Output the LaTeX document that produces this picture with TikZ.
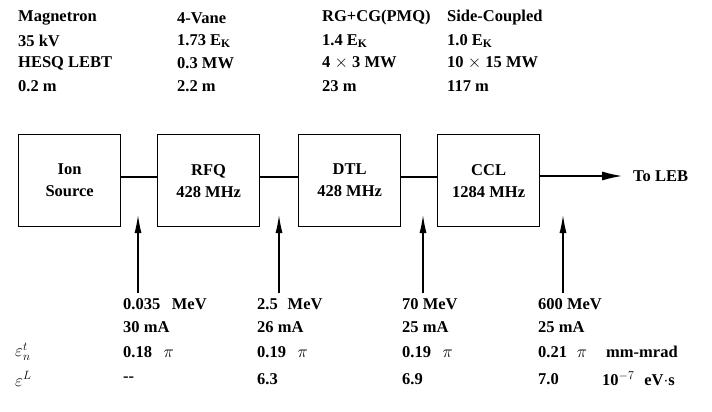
\documentclass[tikz,border=0pt]{standalone}
\usepackage{fontspec}
\setmainfont{Liberation Serif}
\usetikzlibrary{arrows.meta}
\begin{document}
\begin{tikzpicture}[x=1pt,y=-1pt,
  lbl/.style={anchor=west,inner sep=0pt,font=\bfseries\fontsize{16.5}{19}\selectfont},
  eps/.style={anchor=west,inner sep=0pt,font=\fontsize{18}{20}\selectfont},
  box/.style={draw,line width=1.3pt,minimum width=102pt,minimum height=92pt,anchor=north west,align=center,inner sep=0pt,font=\bfseries\fontsize{16.5}{22}\selectfont},
  conn/.style={line width=1.2pt},
  feed/.style={line width=1.2pt,-{Latex[length=18pt,width=7pt]}},
  outarrow/.style={line width=1.2pt,-{Latex[length=20pt,width=9pt]}}]
\useasboundingbox (0,0) rectangle (712,412);
% top table
\node[lbl] (t11) at (18,18) {Magnetron};
\node[lbl] (t12) at (18,41) {35 kV};
\node[lbl] (t13) at (18,63) {HESQ LEBT};
\node[lbl] (t14) at (18,86) {0.2 m};
\node[lbl] (t21) at (177,18) {4-Vane};
\node[lbl] (t22) at (177,41) {1.73 E$_{\mathbf{K}}$};
\node[lbl] (t23) at (177,63) {0.3 MW};
\node[lbl] (t24) at (177,86) {2.2 m};
\node[lbl] (t31) at (322,18) {RG+CG(PMQ)};
\node[lbl] (t32) at (322,41) {1.4 E$_{\mathbf{K}}$};
\node[lbl] (t33) at (322,63) {4 $\times$ 3 MW};
\node[lbl] (t34) at (322,86) {23 m};
\node[lbl] (t41) at (447,18) {Side-Coupled};
\node[lbl] (t42) at (447,41) {1.0 E$_{\mathbf{K}}$};
\node[lbl] (t43) at (447,63) {10 $\times$ 15 MW};
\node[lbl] (t44) at (447,86) {117 m};
% boxes
\node[box] (ion) at (18,134) {Ion\\Source};
\node[box] (rfq) at (157,134) {RFQ\\428 MHz};
\node[box] (dtl) at (298,134) {DTL\\428 MHz};
\node[box] (ccl) at (437,134) {CCL\\1284 MHz};
\node[lbl] (leb) at (633,176) {To LEB};
\draw[conn] (ion.east |- 0,177) -- (rfq.west |- 0,177);
\draw[conn] (rfq.east |- 0,177) -- (dtl.west |- 0,177);
\draw[conn] (dtl.east |- 0,177) -- (ccl.west |- 0,177);
\draw[outarrow] (ccl.east |- 0,176) -- ([xshift=-11pt]leb.west);
% feed arrows
\coordinate (a1) at (138,293); \coordinate (b1) at (138,215);
\coordinate (a2) at (279,293); \coordinate (b2) at (279,215);
\coordinate (a3) at (423,293); \coordinate (b3) at (423,215);
\coordinate (a4) at (563,293); \coordinate (b4) at (563,215);
\draw[feed] (a1) -- (b1);
\draw[feed] (a2) -- (b2);
\draw[feed] (a3) -- (b3);
\draw[feed] (a4) -- (b4);
% bottom table
\node[eps] (e1) at (15,352) {$\varepsilon_n^t$};
\node[eps] (e2) at (15,379) {$\varepsilon^L$};
\node[lbl] (b11) at (123,304) {0.035\hspace{0.7em}MeV};
\node[lbl] (b12) at (123,327) {30 mA};
\node[lbl] (b13) at (123,352) {0.18\hspace{0.7em}$\pi$};
\node[lbl] (b14) at (123,379) {-{}-};
\node[lbl] (b21) at (257,304) {2.5\hspace{0.6em}MeV};
\node[lbl] (b22) at (257,327) {26 mA};
\node[lbl] (b23) at (257,352) {0.19\hspace{0.7em}$\pi$};
\node[lbl] (b24) at (257,379) {6.3};
\node[lbl] (b31) at (402,304) {70 MeV};
\node[lbl] (b32) at (402,327) {25 mA};
\node[lbl] (b33) at (402,352) {0.19\hspace{0.7em}$\pi$};
\node[lbl] (b34) at (402,379) {6.9};
\node[lbl] (b41) at (538,304) {600 MeV};
\node[lbl] (b42) at (538,327) {25 mA};
\node[lbl] (b43) at (538,352) {0.21\hspace{0.6em}$\pi$};
\node[lbl] (b44) at (538,379) {7.0};
\node[lbl] (u1) at (606,352) {mm-mrad};
\node[lbl] (u2) at (602,379) {10$^{-7}$\hspace{0.6em}eV$\cdot$s};
\end{tikzpicture}
\end{document}
